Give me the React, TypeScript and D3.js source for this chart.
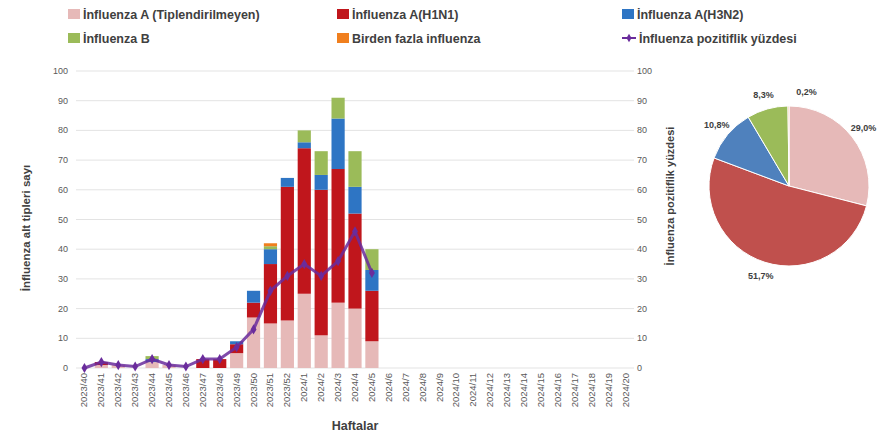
import React from 'react';
import * as d3 from 'd3';

const WEEKS = [
  '2023/40', '2023/41', '2023/42', '2023/43', '2023/44', '2023/45', '2023/46', '2023/47', '2023/48',
  '2023/49', '2023/50', '2023/51', '2023/52', '2024/1', '2024/2', '2024/3', '2024/4', '2024/5',
  '2024/6', '2024/7', '2024/8', '2024/9', '2024/10', '2024/11', '2024/12', '2024/13', '2024/14',
  '2024/15', '2024/16', '2024/17', '2024/18', '2024/19', '2024/20',
];

// counts per week (only first 18 weeks have data)
const A_UNTYPED = [0, 1, 1, 0, 2, 1, 0, 0, 0, 5, 17, 15, 16, 25, 11, 22, 20, 9];
const A_H1N1 = [0, 1, 0, 0, 0, 0, 0, 3, 3, 3, 5, 20, 45, 49, 49, 45, 32, 17];
const A_H3N2 = [0, 0, 0, 0, 1, 0, 0, 0, 0, 1, 4, 5, 3, 2, 5, 17, 9, 7];
const INF_B = [0, 0, 0, 0, 1, 0, 0, 0, 0, 0, 0, 1, 0, 4, 8, 7, 12, 7];
const MULTI = [0, 0, 0, 0, 0, 0, 0, 0, 0, 0, 0, 1, 0, 0, 0, 0, 0, 0];
const POSITIVITY = [0, 2, 1, 0.5, 3, 1, 0.5, 3, 3, 7, 13, 26, 31, 35, 31, 36, 46, 32];

const Y_TICKS = [0, 10, 20, 30, 40, 50, 60, 70, 80, 90, 100];

const PIE_LABELS = ['29,0%', '51,7%', '10,8%', '8,3%', '0,2%'];
const PIE_VALUES = [29.0, 51.7, 10.8, 8.3, 0.2];
const PIE_COLORS = ['#e6b9b8', '#c0504d', '#4f81bd', '#9bbb59', '#f79646'];

const SERIES = [
  { key: 'untyped', label: 'İnfluenza A (Tiplendirilmeyen)', color: '#e6b9b8', values: A_UNTYPED },
  { key: 'h1n1', label: 'İnfluenza A(H1N1)', color: '#c0161c', values: A_H1N1 },
  { key: 'h3n2', label: 'İnfluenza A(H3N2)', color: '#2e75c4', values: A_H3N2 },
  { key: 'b', label: 'İnfluenza B', color: '#9bbb59', values: INF_B },
  { key: 'multi', label: 'Birden fazla influenza', color: '#f07f1e', values: MULTI },
];

const LINE_COLOR = '#6a2c9c';
const FONT = '"Liberation Sans", Arial, sans-serif';

export default function App() {
  const W = 891;
  const H = 438;

  const x = d3.scaleBand<string>().domain(WEEKS).range([76, 634]).paddingInner(0.22).paddingOuter(0.11);
  const y = d3.scaleLinear().domain([0, 100]).range([368, 71]);
  const y2 = d3.scaleLinear().domain([0, 100]).range([368, 71]);

  const rows = A_UNTYPED.map((_, i) => {
    const r: Record<string, number | string> = { week: WEEKS[i] };
    SERIES.forEach((s) => (r[s.key] = s.values[i]));
    return r;
  });
  const stack = d3.stack<any>().keys(SERIES.map((s) => s.key));
  const stacked = stack(rows);

  const line = d3
    .line<number>()
    .x((_d, i) => (x(WEEKS[i]) ?? 0) + x.bandwidth() / 2)
    .y((d) => y2(d));

  // pie
  const pcx = 789;
  const pcy = 186;
  const pr = 80;
  const pie = d3.pie<number>().sort(null).value((d) => d);
  const arcs = pie(PIE_VALUES);
  const arc = d3.arc<d3.PieArcDatum<number>>().innerRadius(0).outerRadius(pr);
  const labelArc = d3.arc<d3.PieArcDatum<number>>().innerRadius(pr * 1.18).outerRadius(pr * 1.18);

  const legendCols = [68, 337, 622];
  const legendRows = [14, 38];

  return (
    <svg width={W} height={H} style={{ position: 'absolute', left: 0, top: 0, fontFamily: FONT }}>
      <rect width={W} height={H} fill="#fff" />

      {/* legend */}
      {SERIES.map((s, i) => {
        const lx = legendCols[i % 3];
        const ly = legendRows[Math.floor(i / 3)];
        return (
          <g key={s.key} transform={`translate(${lx},${ly})`}>
            <rect x={0} y={-5} width={12} height={10} fill={s.color} />
            <text x={15} y={4.5} fontSize={12.5} fontWeight="bold" fill="#404040">
              {s.label}
            </text>
          </g>
        );
      })}
      <g transform={`translate(${legendCols[2]},${legendRows[1]})`}>
        <line x1={0} x2={14} y1={0} y2={0} stroke={LINE_COLOR} strokeWidth={2} />
        <path d={d3.symbol(d3.symbolDiamond, 22)() ?? ''} transform="translate(7,0)" fill={LINE_COLOR} />
        <text x={17} y={4.5} fontSize={12.5} fontWeight="bold" fill="#404040">
          İnfluenza pozitiflik yüzdesi
        </text>
      </g>

      {/* grid */}
      {Y_TICKS.map((t) => (
        <line key={t} x1={76} x2={634} y1={y(t)} y2={y(t)} stroke="#e3e3e3" strokeWidth={1} />
      ))}

      {/* left ticks */}
      {Y_TICKS.map((t) => (
        <text key={'l' + t} x={68} y={y(t) + 3} fontSize={9} textAnchor="end" fill="#595959">
          {t}
        </text>
      ))}
      {/* right ticks */}
      {Y_TICKS.map((t) => (
        <text key={'r' + t} x={637} y={y2(t) + 3} fontSize={9} textAnchor="start" fill="#595959">
          {t}
        </text>
      ))}

      {/* bars */}
      {stacked.map((layer, li) => (
        <g key={SERIES[li].key} fill={SERIES[li].color}>
          {layer.map((d, i) =>
            d[1] - d[0] > 0 ? (
              <rect
                key={i}
                x={x(WEEKS[i])}
                width={x.bandwidth()}
                y={y(d[1])}
                height={y(d[0]) - y(d[1])}
              />
            ) : null
          )}
        </g>
      ))}

      {/* line */}
      <path d={line(POSITIVITY) ?? ''} fill="none" stroke={LINE_COLOR} strokeWidth={3} strokeOpacity={0.85} />
      {POSITIVITY.map((v, i) => (
        <path
          key={i}
          d={d3.symbol(d3.symbolDiamond, 30)() ?? ''}
          transform={`translate(${(x(WEEKS[i]) ?? 0) + x.bandwidth() / 2},${y2(v)})`}
          fill={LINE_COLOR}
        />
      ))}

      {/* x labels */}
      {WEEKS.map((w) => (
        <text
          key={w}
          transform={`translate(${(x(w) ?? 0) + x.bandwidth() / 2 + 3},373) rotate(-90)`}
          fontSize={9.5}
          textAnchor="end"
          fill="#595959"
        >
          {w}
        </text>
      ))}
      <text x={355} y={430} fontSize={12.5} fontWeight="bold" textAnchor="middle" fill="#404040">
        Haftalar
      </text>

      {/* axis titles */}
      <text
        transform="translate(30,228) rotate(-90)"
        fontSize={11.5}
        fontWeight="bold"
        textAnchor="middle"
        fill="#404040"
      >
        İnfluenza alt tipleri sayı
      </text>
      <text
        transform="translate(674,196) rotate(-90)"
        fontSize={11}
        fontWeight="bold"
        textAnchor="middle"
        fill="#404040"
      >
        İnfluenza pozitiflik yüzdesi
      </text>

      {/* pie */}
      <g transform={`translate(${pcx},${pcy})`}>
        {arcs.map((a, i) => (
          <path key={i} d={arc(a) ?? ''} fill={PIE_COLORS[i]} stroke="#fff" strokeWidth={1} />
        ))}
        {arcs.map((a, i) => {
          const [lx, ly] = labelArc.centroid(a);
          const dx = PIE_VALUES[i] < 1 ? 18 : 0;
          return (
            <text
              key={'t' + i}
              x={lx + dx}
              y={ly + 3}
              fontSize={9}
              fontWeight="bold"
              textAnchor="middle"
              fill="#404040"
            >
              {PIE_LABELS[i]}
            </text>
          );
        })}
      </g>
    </svg>
  );
}
